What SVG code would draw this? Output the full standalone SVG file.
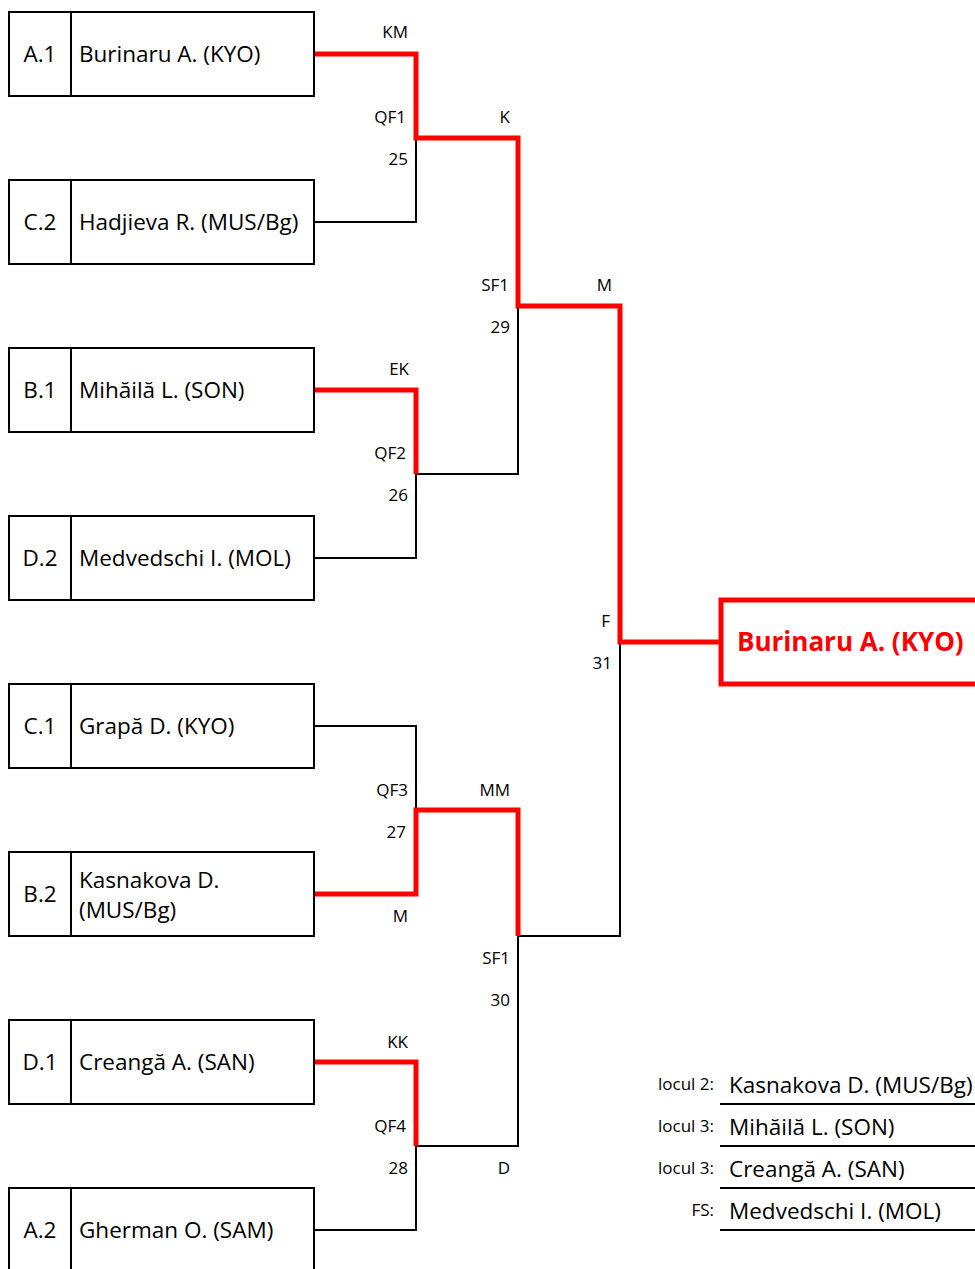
<svg xmlns="http://www.w3.org/2000/svg" width="975" height="1269" viewBox="0 0 975 1269">
<style>
.box{fill:#fff;stroke:#000;stroke-width:2}
.div{stroke:#000;stroke-width:2}
.t{font-family:"Open Sans","Liberation Sans",sans-serif;font-size:22.5px;fill:#000}
.s{font-family:"Open Sans","Liberation Sans",sans-serif;font-size:17px;fill:#000}
.blk{fill:none;stroke:#000;stroke-width:2}
.red{fill:none;stroke:#ff0000;stroke-width:5;stroke-linejoin:miter}
.win{font-family:"Open Sans","Liberation Sans",sans-serif;font-size:26px;font-weight:bold;fill:#ff0000}
</style>
<rect width="975" height="1269" fill="#fff"/>
<g id="connectors">
<path class="blk" d="M314,222H416V138"/>
<path class="blk" d="M314,558H416V474H518V306"/>
<path class="blk" d="M314,726H416V810"/>
<path class="blk" d="M518,936H620V642"/>
<path class="blk" d="M314,1230H416V1146H518V936"/>
<path class="red" d="M314,54H416V138H518V306H620V642H720"/>
<path class="red" d="M314,390H416V474"/>
<path class="red" d="M314,894H416V810H518V936"/>
<path class="red" d="M314,1062H416V1146"/>
</g>
<g id="labels" text-anchor="end">
<text class="s" x="408" y="38">KM</text>
<text class="s" x="406" y="123">QF1</text>
<text class="s" x="408" y="165">25</text>
<text class="s" x="510" y="123">K</text>
<text class="s" x="509" y="291">SF1</text>
<text class="s" x="510" y="333">29</text>
<text class="s" x="612" y="291">M</text>
<text class="s" x="409" y="375">EK</text>
<text class="s" x="406" y="459">QF2</text>
<text class="s" x="408" y="501">26</text>
<text class="s" x="610" y="627">F</text>
<text class="s" x="612" y="669">31</text>
<text class="s" x="408" y="796">QF3</text>
<text class="s" x="510" y="796">MM</text>
<text class="s" x="406" y="838">27</text>
<text class="s" x="408" y="922">M</text>
<text class="s" x="510" y="964">SF1</text>
<text class="s" x="510" y="1006">30</text>
<text class="s" x="408" y="1048">KK</text>
<text class="s" x="406" y="1132">QF4</text>
<text class="s" x="408" y="1174">28</text>
<text class="s" x="510" y="1174">D</text>
</g>
<g id="n-a1"><rect class="box" x="9" y="12" width="305" height="84"/><line class="div" x1="71" y1="12" x2="71" y2="96"/><text class="t" x="40" y="62" text-anchor="middle">A.1</text><text class="t" x="79" y="62">Burinaru A. (KYO)</text></g>
<g id="n-c2"><rect class="box" x="9" y="180" width="305" height="84"/><line class="div" x1="71" y1="180" x2="71" y2="264"/><text class="t" x="40" y="230" text-anchor="middle">C.2</text><text class="t" x="79" y="230">Hadjieva R. (MUS/Bg)</text></g>
<g id="n-b1"><rect class="box" x="9" y="348" width="305" height="84"/><line class="div" x1="71" y1="348" x2="71" y2="432"/><text class="t" x="40" y="398" text-anchor="middle">B.1</text><text class="t" x="79" y="398">Mihăilă L. (SON)</text></g>
<g id="n-d2"><rect class="box" x="9" y="516" width="305" height="84"/><line class="div" x1="71" y1="516" x2="71" y2="600"/><text class="t" x="40" y="566" text-anchor="middle">D.2</text><text class="t" x="79" y="566">Medvedschi I. (MOL)</text></g>
<g id="n-c1"><rect class="box" x="9" y="684" width="305" height="84"/><line class="div" x1="71" y1="684" x2="71" y2="768"/><text class="t" x="40" y="734" text-anchor="middle">C.1</text><text class="t" x="79" y="734">Grapă D. (KYO)</text></g>
<g id="n-b2"><rect class="box" x="9" y="852" width="305" height="84"/><line class="div" x1="71" y1="852" x2="71" y2="936"/><text class="t" x="40" y="902" text-anchor="middle">B.2</text><text class="t" x="79" y="888">Kasnakova D.</text><text class="t" x="79" y="918">(MUS/Bg)</text></g>
<g id="n-d1"><rect class="box" x="9" y="1020" width="305" height="84"/><line class="div" x1="71" y1="1020" x2="71" y2="1104"/><text class="t" x="40" y="1070" text-anchor="middle">D.1</text><text class="t" x="79" y="1070">Creangă A. (SAN)</text></g>
<g id="n-a2"><rect class="box" x="9" y="1188" width="305" height="84"/><line class="div" x1="71" y1="1188" x2="71" y2="1272"/><text class="t" x="40" y="1238" text-anchor="middle">A.2</text><text class="t" x="79" y="1238">Gherman O. (SAM)</text></g>
<g id="n-winner"><rect x="721" y="600" width="260" height="84" fill="#fff" stroke="#ff0000" stroke-width="5"/><text class="win" x="737" y="651">Burinaru A. (KYO)</text></g>
<g id="standings">
<text class="s" x="714" y="1090" text-anchor="end">locul 2:</text><text class="t" x="729" y="1093">Kasnakova D. (MUS/Bg)</text><line class="div" x1="720" y1="1104" x2="975" y2="1104"/>
<text class="s" x="714" y="1132" text-anchor="end">locul 3:</text><text class="t" x="729" y="1135">Mihăilă L. (SON)</text><line class="div" x1="720" y1="1146" x2="975" y2="1146"/>
<text class="s" x="714" y="1174" text-anchor="end">locul 3:</text><text class="t" x="729" y="1177">Creangă A. (SAN)</text><line class="div" x1="720" y1="1188" x2="975" y2="1188"/>
<text class="s" x="714" y="1216" text-anchor="end">FS:</text><text class="t" x="729" y="1219">Medvedschi I. (MOL)</text><line class="div" x1="720" y1="1230" x2="975" y2="1230"/>
</g>
</svg>
